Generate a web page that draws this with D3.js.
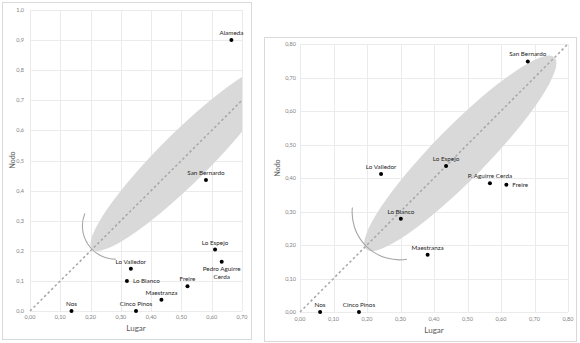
<!DOCTYPE html>
<html><head><meta charset="utf-8">
<script src="https://cdn.jsdelivr.net/npm/d3@7"></script>
<style>body{margin:0;background:#fff}svg{display:block}text{font-family:Lato,"Open Sans",sans-serif}</style>
</head><body><svg id="c" width="580" height="343"></svg>
<script>
// ---- Left chart data ----
const leftNames = ["Alameda","San Bernardo","Lo Espejo","Pedro Aguirre Cerda","Freire","Maestranza","Lo Valledor","Lo Blanco","Cinco Pinos","Nos"];
const leftLugar = [0.665,0.581,0.611,0.633,0.52,0.434,0.333,0.32,0.35,0.137];
const leftNodo  = [0.90,0.435,0.204,0.164,0.082,0.037,0.14,0.10,0,0];
const leftXTicks = [0,0.1,0.2,0.3,0.4,0.5,0.6,0.7];
const leftYTicks = [0,0.1,0.2,0.3,0.4,0.5,0.6,0.7,0.8,0.9,1.0];
// ellipse tips (Lugar, Nodo) and arc centre on diagonal
const leftEllipseTips = [[0.205,0.205],[0.815,0.815]];
const leftArcCenter = 0.283;

// ---- Right chart data ----
const rightNames = ["San Bernardo","Lo Espejo","Lo Valledor","P. Aguirre Cerda","Freire","Lo Blanco","Maestranza","Nos","Cinco Pinos"];
const rightLugar = [0.68,0.436,0.242,0.567,0.616,0.301,0.381,0.06,0.176];
const rightNodo  = [0.748,0.436,0.412,0.384,0.38,0.278,0.171,0,0];
const rightXTicks = [0,0.1,0.2,0.3,0.4,0.5,0.6,0.7,0.8];
const rightYTicks = [0,0.1,0.2,0.3,0.4,0.5,0.6,0.7,0.8];
const rightEllipseTips = [[0.197,0.187],[0.76,0.76]];
const rightArcCenter = 0.297;

const loc = d3.formatLocale({decimal:",",thousands:".",grouping:[3],currency:["","€"]});
const svg = d3.select("#c");

function panel(cfg){
  const g = svg.append("g");
  const x = cfg.x, y = cfg.y;
  const [x0,x1] = x.range(), [y0,y1] = y.range();
  // border
  g.append("rect").attr("x",cfg.box[0]+0.5).attr("y",cfg.box[1]+0.5)
    .attr("width",cfg.box[2]).attr("height",cfg.box[3])
    .attr("fill","#fff").attr("stroke","#d9d9d9");
  // grid
  g.selectAll(".gx").data(cfg.xt).join("line")
    .attr("x1",d=>Math.round(x(d))+0.5).attr("x2",d=>Math.round(x(d))+0.5)
    .attr("y1",y0).attr("y2",y1).attr("stroke","#ebebeb");
  g.selectAll(".gy").data(cfg.yt).join("line")
    .attr("y1",d=>Math.round(y(d))+0.5).attr("y2",d=>Math.round(y(d))+0.5)
    .attr("x1",x0).attr("x2",x1).attr("stroke","#ebebeb");
  // clip
  const cid = "clip"+cfg.id;
  svg.append("clipPath").attr("id",cid).append("rect")
    .attr("x",x0).attr("y",y1).attr("width",x1-x0).attr("height",y0-y1);
  // ellipse
  const p0 = [x(cfg.tips[0][0]), y(cfg.tips[0][1])];
  const p1 = [x(cfg.tips[1][0]), y(cfg.tips[1][1])];
  const cx = (p0[0]+p1[0])/2, cy = (p0[1]+p1[1])/2;
  const a = Math.hypot(p1[0]-p0[0], p1[1]-p0[1])/2;
  const ang = Math.atan2(p1[1]-p0[1], p1[0]-p0[0])*180/Math.PI;
  g.append("g").attr("clip-path",`url(#${cid})`).append("ellipse")
    .attr("cx",cx).attr("cy",cy).attr("rx",a).attr("ry",cfg.b)
    .attr("transform",`rotate(${ang},${cx},${cy})`)
    .attr("fill","#d9d9d9");
  // diagonal
  const dmax = Math.min(x.domain()[1], y.domain()[1]);
  g.append("line").attr("x1",x(0)).attr("y1",y(0)).attr("x2",x(dmax)).attr("y2",y(dmax))
    .attr("stroke","#a6a6a6").attr("stroke-width",1.5).attr("stroke-dasharray","2.5,2.5");
  // arc
  const acx = x(cfg.arc), acy = y(cfg.arc);
  const r = Math.hypot(acx - x(cfg.tips[0][0]), acy - y(cfg.tips[0][0]));
  const p = d3.path();
  const t0 = cfg.arcAngles[0]*Math.PI/180, t1 = cfg.arcAngles[1]*Math.PI/180;
  p.moveTo(acx + r*Math.cos(t0), acy + r*Math.sin(t0));
  p.arc(acx, acy, r, t0, t1, false);
  g.append("path").attr("d",p.toString()).attr("fill","none").attr("stroke","#a6a6a6").attr("stroke-width",1.1);
  // tick labels
  g.selectAll(".tx").data(cfg.xt).join("text")
    .attr("x",d=>x(d)).attr("y",cfg.xTickY).attr("text-anchor","middle")
    .attr("font-size",5.5).attr("fill","#7f7f7f").text(d=>loc.format(".2f")(d));
  g.selectAll(".ty").data(cfg.yt).join("text")
    .attr("x",cfg.yTickX).attr("y",d=>y(d)+2).attr("text-anchor","end")
    .attr("font-size",5.5).attr("fill","#7f7f7f").text(d=>loc.format(cfg.yFmt)(d));
  // titles
  g.append("text").attr("x",cfg.xTitle[0]).attr("y",cfg.xTitle[1]).attr("text-anchor","middle")
    .attr("font-size",8).attr("fill","#595959").text("Lugar");
  g.append("text").attr("transform",`translate(${cfg.yTitle[0]},${cfg.yTitle[1]}) rotate(-90)`)
    .attr("text-anchor","middle").attr("font-size",7).attr("fill","#595959").text("Nodo");
  // points
  const pts = cfg.names.map((n,i)=>({n, lx:cfg.lx[i], ly:cfg.ly[i]}));
  g.selectAll(".pt").data(pts).join("circle")
    .attr("cx",d=>x(d.lx)).attr("cy",d=>y(d.ly)).attr("r",2).attr("fill","#000");
  pts.forEach(d=>{
    const px = x(d.lx), py = y(d.ly);
    const pos = cfg.place[d.n] || "above";
    const t = g.append("text").attr("font-size",6.3).attr("fill","#262626");
    if(pos==="above"){
      t.attr("x",px).attr("y",py-5).attr("text-anchor","middle").text(d.n);
    } else if(pos==="right"){
      t.attr("x",px+6).attr("y",py+2.2).attr("text-anchor","start").text(d.n);
    } else if(pos==="below2"){
      const parts = cfg.split[d.n];
      t.attr("text-anchor","middle");
      parts.forEach((s,k)=>t.append("tspan").attr("x",px).attr("y",py+9+k*8).text(s));
    }
  });
}

panel({id:"L", names:leftNames, lx:leftLugar, ly:leftNodo, xt:leftXTicks, yt:leftYTicks,
  x:d3.scaleLinear([0,0.7],[30,242]), y:d3.scaleLinear([0,1],[311,10]),
  box:[2,2,249,337], tips:leftEllipseTips, b:25, arc:leftArcCenter, arcAngles:[90,202],
  xTickY:319, yTickX:24, yFmt:".1f", xTitle:[136,331], yTitle:[15,160],
  place:{"Lo Blanco":"right","Pedro Aguirre Cerda":"below2"},
  split:{"Pedro Aguirre Cerda":["Pedro Aguirre","Cerda"]}});

panel({id:"R", names:rightNames, lx:rightLugar, ly:rightNodo, xt:rightXTicks, yt:rightYTicks,
  x:d3.scaleLinear([0,0.8],[300,568]), y:d3.scaleLinear([0,0.8],[312,44]),
  box:[264,37,312,304], tips:rightEllipseTips, b:26.5, arc:rightArcCenter, arcAngles:[81,186],
  xTickY:321, yTickX:296, yFmt:".2f", xTitle:[434,333], yTitle:[280,168],
  place:{"Freire":"right"}, split:{}});
</script></body></html>
